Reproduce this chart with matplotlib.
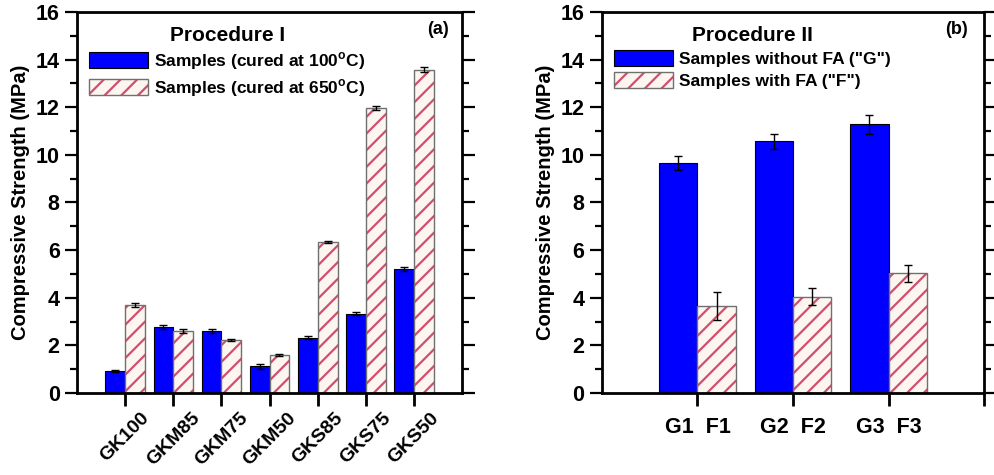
import numpy as np
import matplotlib
matplotlib.use("Agg")
import matplotlib.pyplot as plt
from matplotlib.patches import Patch

plt.rcParams['font.family'] = ['Liberation Sans', 'DejaVu Sans']
plt.rcParams['font.weight'] = 'bold'
plt.rcParams['hatch.linewidth'] = 1.6

# Procedure I
mixes = ['GK100', 'GKM85', 'GKM75', 'GKM50', 'GKS85', 'GKS75', 'GKS50']
cured100 = [0.92, 2.77, 2.60, 1.12, 2.33, 3.33, 5.20]
err100 = [0.03, 0.08, 0.08, 0.10, 0.06, 0.06, 0.08]
cured650 = [3.68, 2.60, 2.22, 1.58, 6.34, 11.95, 13.58]
err650 = [0.09, 0.07, 0.03, 0.04, 0.05, 0.08, 0.12]

# Procedure II
groups = ['G1  F1', 'G2  F2', 'G3  F3']
without_fa = [9.66, 10.56, 11.28]
err_without = [0.30, 0.30, 0.40]
with_fa = [3.66, 4.04, 5.02]
err_with = [0.60, 0.35, 0.35]

blue = '#0000ff'
stripe = '#d04f6c'
cream = '#fdf6f0'
grey = '#707070'


def hatched_bars(ax, x, h, w):
    ax.bar(x, h, w, color=cream, edgecolor=stripe, linewidth=0, hatch='//')
    ax.bar(x, h, w, fill=False, edgecolor=grey, linewidth=1.0)


def style_axes(ax):
    ax.set_ylim(0, 16)
    ax.set_yticks(np.arange(0, 17, 2))
    ax.set_yticks(np.arange(1, 16, 2), minor=True)
    ax.tick_params(axis='y', which='both', direction='out', right=True, width=1.6, labelsize=15.5)
    ax.tick_params(axis='y', which='major', length=9)
    ax.tick_params(axis='y', which='minor', length=5)
    ax.tick_params(axis='x', direction='out', length=9, width=2)
    for s in ax.spines.values():
        s.set_linewidth(2)
    ax.set_ylabel('Compressive Strength (MPa)', fontsize=14.5, fontweight='bold', labelpad=4)


def legend(ax, title, labels):
    h1 = Patch(facecolor=blue, edgecolor='black', linewidth=0.8)
    h2 = (Patch(facecolor=cream, edgecolor=stripe, linewidth=0, hatch='//'),
          Patch(fill=False, edgecolor=grey, linewidth=1.0))
    leg = ax.legend([h1, h2], labels, loc='upper left', bbox_to_anchor=(0.0, 0.995),
                    frameon=False, fontsize=12.5, title=title,
                    title_fontproperties={'size': 15, 'weight': 'bold'},
                    handlelength=3.4, handleheight=1.05, handletextpad=0.35,
                    labelspacing=0.3, borderaxespad=0.5, borderpad=0.2)
    return leg


fig = plt.figure(figsize=(9.94, 4.75), dpi=100)

# (a)
ax1 = fig.add_axes([0.0775, 0.1726, 0.3875, 0.8024])
x = np.arange(1, len(mixes) + 1)
w = 0.41
ax1.bar(x - w / 2, cured100, w, color=blue, edgecolor='black', linewidth=0.8)
ax1.errorbar(x - w / 2, cured100, yerr=err100, fmt='none', ecolor='black', elinewidth=1, capsize=3)
hatched_bars(ax1, x + w / 2, cured650, w)
ax1.errorbar(x + w / 2, cured650, yerr=err650, fmt='none', ecolor='black', elinewidth=1, capsize=3)
ax1.set_xlim(0, 8)
ax1.set_xticks(x)
ax1.set_xticklabels(mixes, rotation=45, fontweight='bold', fontsize=14)
ax1.tick_params(axis='x', pad=3)
style_axes(ax1)
legend(ax1, 'Procedure I', ['Samples (cured at 100$^{\\mathregular{o}}$C)',
                             'Samples (cured at 650$^{\\mathregular{o}}$C)'])
ax1.text(0.938, 0.953, '(a)', transform=ax1.transAxes, ha='center', va='center',
         fontsize=13, fontweight='bold')

# (b)
ax2 = fig.add_axes([0.6056, 0.1726, 0.3844, 0.8024])
xg = np.arange(1, len(groups) + 1)
w2 = 0.4
ax2.bar(xg - w2 / 2, without_fa, w2, color=blue, edgecolor='black', linewidth=0.8)
ax2.errorbar(xg - w2 / 2, without_fa, yerr=err_without, fmt='none', ecolor='black', elinewidth=1, capsize=3)
hatched_bars(ax2, xg + w2 / 2, with_fa, w2)
ax2.errorbar(xg + w2 / 2, with_fa, yerr=err_with, fmt='none', ecolor='black', elinewidth=1, capsize=3)
ax2.set_xlim(0, 4)
ax2.set_xticks([1, 2, 3, 4])
ax2.set_xticklabels(groups + [''], fontweight='bold', fontsize=15.5)
ax2.tick_params(axis='x', pad=8)
style_axes(ax2)
legend(ax2, 'Procedure II', ['Samples without FA ("G")', 'Samples with FA ("F")'])
ax2.text(0.929, 0.953, '(b)', transform=ax2.transAxes, ha='center', va='center',
         fontsize=13, fontweight='bold')

fig.savefig('out.png', dpi=100)
